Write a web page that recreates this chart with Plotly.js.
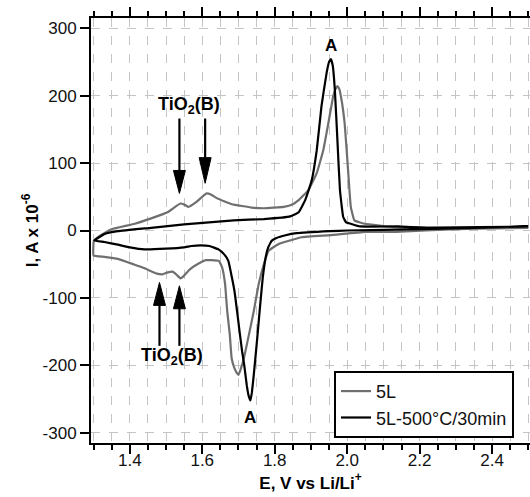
<!DOCTYPE html>
<html><head><meta charset="utf-8">
<script src="https://cdn.plot.ly/plotly-3.0.1.min.js"></script>
<style>html,body{margin:0;padding:0;background:#fff}#chart{width:530px;height:497px}</style>
</head><body><div id="chart"></div>
<script>
// 5L (gray): anodic sweep then cathodic sweep
const E_5L = [1.300,1.301,1.320,1.350,1.414,1.459,1.504,1.525,1.540,1.552,1.562,1.583,1.600,1.612,1.625,1.640,1.682,1.737,1.770,1.825,1.850,1.866,1.893,1.916,1.934,1.948,1.961,1.968,1.973,1.978,1.983,1.993,2.003,2.010,2.020,2.048,2.134,2.370,2.500,
  2.500,2.300,2.134,2.050,1.953,1.874,1.811,1.783,1.770,1.756,1.742,1.729,1.715,1.706,1.700,1.694,1.688,1.681,1.676,1.669,1.663,1.655,1.646,1.625,1.610,1.590,1.565,1.548,1.540,1.530,1.518,1.505,1.490,1.475,1.441,1.410,1.367,1.330,1.300];
const I_5L = [-37,-15,-7,2,10,18,27,35,40,38,35,42,50,55,53,48,39,34,33,35,39,45,60,85,119,159,198,210,214,210,198,159,85,35,15,10,5,4,4,
  4,2,-2,-2,-7,-10,-20,-30,-50,-79,-120,-154,-189,-206,-214,-210,-203,-189,-154,-120,-79,-55,-45,-44,-44,-49,-58,-68,-71,-66,-61,-62,-65,-64,-56,-50,-42,-39,-37];

// 5L-500°C/30min (black)
const E_500 = [1.302,1.331,1.367,1.459,1.550,1.687,1.770,1.843,1.866,1.884,1.902,1.916,1.929,1.943,1.950,1.955,1.960,1.966,1.973,1.980,1.989,1.997,2.010,2.035,2.140,2.226,2.500,
  2.500,2.200,2.000,1.953,1.860,1.830,1.805,1.792,1.782,1.775,1.767,1.760,1.751,1.742,1.737,1.733,1.728,1.723,1.716,1.710,1.703,1.696,1.689,1.682,1.672,1.660,1.645,1.620,1.596,1.570,1.550,1.500,1.441,1.400,1.367,1.330,1.302];
const I_500 = [-15,-5,-1,4,9,15,17,21,27,45,74,119,184,233,250,254,245,208,134,60,20,12,10,6,6,4,6,
  6,2,0,-1,-4,-7,-11,-15,-25,-40,-70,-110,-164,-215,-240,-252,-245,-230,-200,-179,-150,-119,-90,-70,-45,-35,-28,-23,-22,-23,-25,-27,-28,-25,-21,-17,-15];

const seriesNames = ['5L', '5L-500°C/30min'];
const seriesColors = ['#6f6f6f', '#000000'];

// axis ticks (plain hyphen minus as in the reference)
const yTickVals = [-300, -200, -100, 0, 100, 200, 300];
const yTickText = ['-300', '-200', '-100', '0', '100', '200', '300'];

// labels
const peakLabel = 'A';
const phaseLabel = 'TiO<sub>2</sub>(B)';
const yTitle = 'I, A x 10<sup>-6</sup>';
const xTitle = 'E, V vs Li/Li<sup>+</sup>';

// arrows: x position, tip, head base, tail (data units)
const arrowX    = [1.537, 1.608, 1.482, 1.537];
const arrowTip  = [55, 70, -77, -82];
const arrowBase = [89, 108, -111, -116];
const arrowTail = [166, 166, -171, -171];

const FONT = 'Arial, "Liberation Sans", sans-serif';

const traces = [
  {x: E_5L, y: I_5L, name: seriesNames[0], mode: 'lines',
   line: {color: seriesColors[0], width: 2.2, shape: 'spline', smoothing: 0.3}},
  {x: E_500, y: I_500, name: seriesNames[1], mode: 'lines',
   line: {color: seriesColors[1], width: 2.2, shape: 'spline', smoothing: 0.3}}
];

const halfW = 0.0165;
const shapes = [];
arrowX.forEach((ax, i) => {
  shapes.push({type: 'line', xref: 'x', yref: 'y', x0: ax, x1: ax, y0: arrowTail[i], y1: arrowBase[i],
    line: {color: '#000', width: 2.2}});
  shapes.push({type: 'path', xref: 'x', yref: 'y',
    path: `M ${ax - halfW},${arrowBase[i]} L ${ax + halfW},${arrowBase[i]} L ${ax},${arrowTip[i]} Z`,
    fillcolor: '#000', line: {color: '#000', width: 1}});
});

const annotations = [
  {x: 1.955, y: 254, text: '<b>' + peakLabel + '</b>', showarrow: false, yshift: 14,
   font: {family: FONT, size: 17, color: '#000'}},
  {x: 1.733, y: -252, text: '<b>' + peakLabel + '</b>', showarrow: false, yshift: -17,
   font: {family: FONT, size: 17, color: '#000'}},
  {x: 1.564, y: 186, xref: 'x', yref: 'y', text: '<b>' + phaseLabel + '</b>', showarrow: false,
   font: {family: FONT, size: 18, color: '#000'}},
  {x: 1.516, y: -187, xref: 'x', yref: 'y', text: '<b>' + phaseLabel + '</b>', showarrow: false,
   font: {family: FONT, size: 18, color: '#000'}}
];

const layout = {
  width: 530, height: 497,
  margin: {l: 91, r: 0, t: 18, b: 54},
  paper_bgcolor: '#fff', plot_bgcolor: '#fff',
  font: {family: FONT, size: 17, color: '#111'},
  showlegend: true,
  legend: {x: 0.5535, y: 0.012, xanchor: 'left', yanchor: 'bottom',
    bordercolor: '#000', borderwidth: 2, bgcolor: '#fff',
    font: {family: FONT, size: 18, color: '#111'}, tracegroupgap: 0},
  xaxis: {
    range: [1.293, 2.5045], tick0: 1.4, dtick: 0.2, tickformat: '.1f',
    showline: true, linecolor: '#000', linewidth: 2, mirror: 'ticks',
    ticks: 'outside', ticklen: 9, tickwidth: 2, tickcolor: '#000',
    ticklabelstandoff: -8,
    showgrid: true, gridcolor: '#c4c4c4', gridwidth: 1, griddash: 'dash',
    minor: {dtick: 0.05, tick0: 1.3, ticks: 'outside', ticklen: 5, tickwidth: 2, tickcolor: '#000',
      showgrid: true, gridcolor: '#c4c4c4', gridwidth: 1, griddash: 'dash'},
    zeroline: false,
    title: {text: '<b>' + xTitle + '</b>', font: {family: FONT, size: 17, color: '#000'}, standoff: 0}
  },
  yaxis: {
    range: [-315, 315], tickvals: yTickVals, ticktext: yTickText,
    showline: true, linecolor: '#000', linewidth: 2,
    ticks: 'outside', ticklen: 9, tickwidth: 2, tickcolor: '#000',
    showgrid: true, gridcolor: '#c4c4c4', gridwidth: 1, griddash: 'dash',
    zeroline: false,
    title: {text: '<b>' + yTitle + '</b>', font: {family: FONT, size: 17, color: '#000'}, standoff: 0}
  },
  shapes: shapes,
  annotations: annotations
};

Plotly.newPlot('chart', traces, layout, {staticPlot: true, displayModeBar: false});
</script></body></html>
